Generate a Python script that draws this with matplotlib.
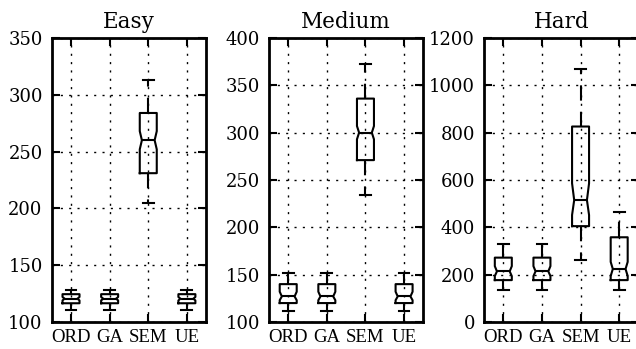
import matplotlib
matplotlib.use("Agg")
import matplotlib.pyplot as plt

plt.rcParams['font.family'] = ['DejaVu Serif']
plt.rcParams['lines.scale_dashes'] = False

categories = ["ORD", "GA", "SEM", "UE"]
panels = ["Easy", "Medium", "Hard"]

# per panel: lists in category order
easy_whislo = [111, 111, 205, 111]
easy_q1     = [116.5, 116.5, 231, 116.5]
easy_med    = [120.5, 120.5, 260, 120.5]
easy_q3     = [124.5, 124.5, 284, 124.5]
easy_whishi = [128.5, 128.5, 313, 128.5]
easy_cilo   = [119, 119, 252, 119]
easy_cihi   = [122, 122, 268, 122]

med_whislo = [112, 112, 234, 112]
med_q1     = [120, 120, 271, 120]
med_med    = [127, 127, 300, 127]
med_q3     = [140, 140, 336, 140]
med_whishi = [152, 152, 373, 152]
med_cilo   = [123, 123, 293, 123]
med_cihi   = [132, 132, 307, 132]

hard_whislo = [137, 137, 264, 137]
hard_q1     = [177, 177, 405, 177]
hard_med    = [214, 214, 515, 224]
hard_q3     = [272, 272, 826, 358]
hard_whishi = [328, 328, 1068, 464]
hard_cilo   = [194, 194, 452, 194]
hard_cihi   = [236, 236, 586, 254]

ylims = [(100, 350), (100, 400), (0, 1200)]
yticks = [list(range(100, 351, 50)), list(range(100, 401, 50)), list(range(0, 1201, 200))]

data = [
    (easy_whislo, easy_q1, easy_med, easy_q3, easy_whishi, easy_cilo, easy_cihi),
    (med_whislo, med_q1, med_med, med_q3, med_whishi, med_cilo, med_cihi),
    (hard_whislo, hard_q1, hard_med, hard_q3, hard_whishi, hard_cilo, hard_cihi),
]

W, H = 636, 349
fig = plt.figure(figsize=(W / 100, H / 100), dpi=100)
lefts = [51.7, 268.9, 484.0]
axw = 154.5
bottom = (H - 322) / H
height = 284 / H

box_w = 0.44
notch_half = 0.165
lw = 1.5

for i, name in enumerate(panels):
    ax = fig.add_axes([lefts[i] / W, bottom, axw / W, height])
    wl, q1, md, q3, wh, cl, ch = data[i]
    stats = []
    for j, c in enumerate(categories):
        stats.append(dict(whislo=wl[j], q1=q1[j], med=md[j], q3=q3[j], whishi=wh[j],
                          cilo=cl[j], cihi=ch[j], fliers=[], label=c))
    positions = list(range(1, len(categories) + 1))
    art = ax.bxp(stats, positions=positions, widths=box_w, capwidths=0.28,
                 shownotches=True, showfliers=False,
                 boxprops=dict(color='black', lw=lw),
                 whiskerprops=dict(color='black', lw=lw, linestyle=(0, (11, 8))),
                 capprops=dict(color='black', lw=lw),
                 medianprops=dict(color='black', lw=lw))
    for j, (bx, mline) in enumerate(zip(art['boxes'], art['medians'])):
        p = positions[j]
        xd = list(bx.get_xdata())
        xd[3] = p + notch_half
        xd[8] = p - notch_half
        bx.set_xdata(xd)
        mline.set_xdata([p - notch_half, p + notch_half])
    ax.set_xlim(0.5, 4.5)
    ax.set_ylim(*ylims[i])
    ax.set_yticks(yticks[i])
    ax.set_xticks(positions)
    ax.set_xticklabels(categories, fontsize=13.5, family=['Liberation Serif'])
    for lab in ax.get_yticklabels():
        lab.set_fontsize(13)
    ax.tick_params(direction='in', length=6, width=1.5, top=True, right=True,
                   color='black')
    ax.tick_params(axis='y', pad=6.5)
    ax.tick_params(axis='x', pad=5)
    ax.grid(True, color='black', lw=1.0, linestyle=(0, (1.5, 4.5)))
    ax.set_axisbelow(False)
    for s in ax.spines.values():
        s.set_linewidth(2.0)
    ax.set_title(name, fontsize=15.5, pad=7)

fig.savefig("out.png", dpi=100)
